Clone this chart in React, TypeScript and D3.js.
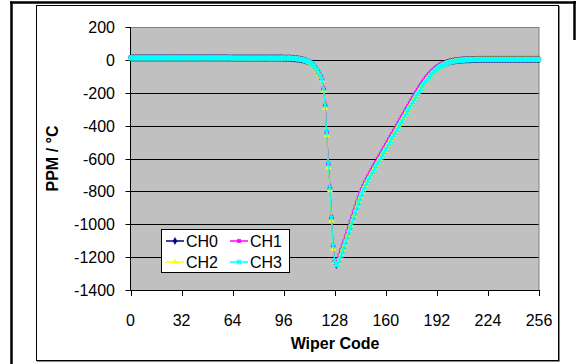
import React from "react";
import * as d3 from "d3";

const seriesNames = ["CH0", "CH1", "CH2", "CH3"];
const seriesColors = ["#000080", "#FF00FF", "#FFFF00", "#00FFFF"];
const xTicks = [0, 32, 64, 96, 128, 160, 192, 224, 256];
const yTicks = [200, 0, -200, -400, -600, -800, -1000, -1200, -1400];

const ch0 = [
  12,12,12,12,12,12,12,12,12,12,12,12,12,12,12,12,
  12,12,12,12,12,12,12,12,12,12,12,12,12,12,12,12,
  12,12,12,12,12,12,12,12,12,12,12,12,12,12,12,12,
  12,12,12,12,12,12,12,12,12,12,12,12,12,11,11,11,
  11,11,11,11,11,11,11,11,11,11,11,11,11,11,11,11,
  11,11,11,11,11,11,11,11,11,11,11,11,11,11,11,11,
  10,10,10,10,10,9,8,7,6,5,4,2,0,-3,-6,-10,
  -15,-21,-29,-38,-50,-64,-80,-98,-118,-179,-280,-446,-639,-781,-963,-1136,
  -1225,-1248,-1230,-1203,-1175,-1147,-1118,-1089,-1060,-1030,-1000,-970,-940,-910,-881,-853,
  -826,-801,-779,-758,-739,-720,-702,-684,-667,-650,-633,-616,-599,-582,-565,-548,
  -531,-514,-497,-480,-463,-446,-429,-412,-395,-378,-361,-344,-327,-310,-293,-276,
  -259,-242,-226,-210,-194,-178,-163,-148,-134,-120,-107,-95,-84,-74,-65,-57,
  -49,-42,-36,-31,-26,-22,-18,-15,-12,-10,-8,-6,-5,-4,-3,-2,
  -1,0,0,1,1,1,2,2,2,2,3,3,3,3,3,3,
  3,3,3,3,3,3,3,3,3,3,3,3,3,3,3,3,
  3,3,3,3,3,3,3,3,3,3,3,3,3,3,3,3,
  3,
];

const ch1 = [
  14,14,14,14,14,14,14,14,14,14,14,14,14,14,14,14,
  14,14,14,14,14,14,14,14,14,14,14,14,14,14,14,14,
  14,14,14,14,14,14,14,14,14,14,14,14,14,14,14,14,
  14,14,14,14,14,14,14,14,14,14,14,14,14,14,14,14,
  13,13,13,13,13,13,13,13,13,13,13,13,13,13,13,13,
  13,13,13,13,13,13,13,13,13,13,13,13,13,13,13,13,
  12,12,12,12,12,11,10,9,8,7,6,4,2,-1,-4,-8,
  -13,-19,-27,-36,-48,-62,-78,-96,-115,-172,-272,-438,-630,-773,-955,-1130,
  -1222,-1243,-1215,-1188,-1160,-1132,-1103,-1074,-1045,-1015,-985,-955,-925,-896,-867,-839,
  -812,-788,-766,-746,-727,-708,-690,-672,-655,-638,-621,-604,-587,-570,-553,-536,
  -519,-502,-485,-468,-451,-434,-417,-400,-383,-366,-349,-332,-315,-298,-281,-264,
  -247,-230,-214,-198,-182,-167,-152,-138,-124,-111,-99,-88,-78,-68,-60,-52,
  -44,-38,-32,-27,-23,-19,-15,-12,-10,-8,-6,-4,-3,-2,-1,0,
  1,1,2,2,2,3,3,3,3,4,4,4,4,4,4,4,
  4,4,4,4,4,4,4,4,4,4,4,4,4,4,4,4,
  4,4,4,4,4,4,4,4,4,4,4,4,4,4,4,4,
  4,
];

const ch2 = [
  10,10,10,10,10,10,10,10,10,10,10,10,10,10,10,10,
  10,10,10,10,10,10,10,10,10,10,10,10,10,10,10,10,
  10,10,10,10,10,10,10,10,10,10,10,10,10,10,10,10,
  10,10,10,10,10,10,10,10,10,10,10,10,10,10,10,10,
  9,9,9,9,9,9,9,9,9,9,9,9,9,9,9,9,
  9,9,9,9,9,9,9,9,9,9,9,9,9,9,9,9,
  9,9,9,9,9,8,7,6,5,4,3,1,-1,-4,-7,-11,
  -16,-23,-31,-40,-53,-67,-84,-102,-125,-188,-292,-460,-655,-795,-978,-1150,
  -1230,-1250,-1236,-1209,-1181,-1153,-1124,-1095,-1066,-1036,-1006,-976,-946,-916,-887,-859,
  -832,-807,-785,-764,-745,-726,-708,-690,-673,-656,-639,-622,-605,-588,-571,-554,
  -537,-520,-503,-486,-469,-452,-435,-418,-401,-384,-367,-350,-333,-316,-299,-282,
  -265,-248,-232,-216,-200,-184,-169,-154,-140,-126,-113,-101,-90,-80,-70,-62,
  -54,-46,-40,-34,-29,-25,-21,-17,-14,-12,-10,-8,-6,-5,-4,-3,
  -2,-1,-1,0,0,1,1,1,1,2,2,2,2,2,2,2,
  2,2,2,2,2,2,2,2,2,2,2,2,2,2,2,2,
  2,2,2,2,2,2,2,2,2,2,2,2,2,2,2,2,
  2,
];

const ch3 = [
  11,11,11,11,11,11,11,11,11,11,11,11,11,11,11,11,
  11,11,11,11,11,11,11,11,11,11,11,11,11,11,11,11,
  11,11,11,11,11,11,11,11,11,11,11,11,11,11,11,11,
  11,11,11,11,11,11,11,11,11,11,11,11,11,11,11,11,
  10,10,10,10,10,10,10,10,10,10,10,10,10,10,10,10,
  10,10,10,10,10,10,10,10,10,10,10,10,10,10,10,10,
  10,10,10,10,10,9,8,7,6,5,4,3,1,-2,-5,-9,
  -14,-20,-27,-36,-48,-62,-78,-96,-116,-176,-276,-440,-634,-777,-960,-1132,
  -1222,-1246,-1244,-1218,-1190,-1162,-1133,-1104,-1075,-1045,-1015,-985,-955,-925,-896,-867,
  -840,-814,-791,-770,-751,-732,-714,-696,-679,-662,-645,-628,-611,-594,-577,-560,
  -543,-526,-509,-492,-475,-458,-441,-424,-407,-390,-373,-356,-339,-322,-305,-288,
  -271,-254,-238,-222,-206,-190,-175,-160,-146,-132,-118,-105,-93,-83,-73,-64,
  -56,-48,-41,-36,-31,-26,-22,-18,-15,-13,-11,-9,-7,-6,-5,-4,
  -3,-2,-1,-1,0,0,1,1,1,1,2,2,2,2,2,2,
  2,2,2,2,2,2,2,2,2,2,2,2,2,2,2,2,
  2,2,2,2,2,2,2,2,2,2,2,2,2,2,2,2,
  2,
];

const allSeries = [ch0, ch1, ch2, ch3];

const FONT = "'Liberation Sans', Arial, sans-serif";

const W = 576;
const H = 364;
const plot = { left: 130.5, top: 27, right: 539, bottom: 290 };

function markerPath(i: number, size: number) {
  const types = [d3.symbolDiamond, d3.symbolSquare, d3.symbolTriangle, d3.symbolX];
  return d3.symbol().type(types[i]).size(size)() as string;
}

function Marker({ i, x, y }: { i: number; x: number; y: number }) {
  const color = seriesColors[i];
  if (i === 3) {
    return (
      <g transform={`translate(${x},${y})`}>
        <path d={markerPath(3, 14)} fill="none" stroke={color} strokeWidth={1.2} />
        <line x1={0} y1={-2.5} x2={0} y2={2.5} stroke={color} strokeWidth={1} />
      </g>
    );
  }
  const sizes = [14, 12, 12];
  return <path transform={`translate(${x},${y})`} d={markerPath(i, sizes[i])} fill={color} stroke={color} strokeWidth={0.5} />;
}

export default function App() {
  const x = d3.scaleLinear().domain([0, 256]).range([plot.left, plot.right]);
  const y = d3.scaleLinear().domain([-1400, 200]).range([plot.bottom, plot.top]);
  const line = d3
    .line<number>()
    .x((_, k) => x(k))
    .y((v) => y(v));

  const legendX = 161;
  const legendY = 229;
  const legendItems = [
    { i: 0, lx: 166, ly: 241 },
    { i: 1, lx: 230, ly: 241 },
    { i: 2, lx: 166, ly: 262 },
    { i: 3, lx: 230, ly: 262 },
  ];

  return (
    <svg
      width={W}
      height={H}
      viewBox={`0 0 ${W} ${H}`}
      style={{ position: "absolute", left: 0, top: 0, display: "block", background: "#fff" }}
      fontFamily={FONT}
    >
      {/* outer frame */}
      <line x1={11.5} y1={1.5} x2={11.5} y2={H} stroke="#000" strokeWidth={2.5} />
      <line x1={10} y1={2.5} x2={W} y2={2.5} stroke="#000" strokeWidth={2.5} />
      <line x1={574.5} y1={1} x2={574.5} y2={40} stroke="#000" strokeWidth={2.5} />
      {/* chart area frame */}
      <rect x={36.5} y={5.5} width={522} height={355} fill="#fff" stroke="#000" strokeWidth={1} />
      <line x1={559.5} y1={6} x2={559.5} y2={361.5} stroke="#888" strokeWidth={1} />
      <line x1={37} y1={361.5} x2={559.5} y2={361.5} stroke="#888" strokeWidth={1} />

      {/* plot area */}
      <rect x={plot.left} y={plot.top} width={plot.right - plot.left} height={plot.bottom - plot.top} fill="#C0C0C0" />
      {yTicks.slice(1, -1).map((t) => (
        <line key={t} x1={plot.left} x2={plot.right} y1={Math.round(y(t)) + 0.5} y2={Math.round(y(t)) + 0.5} stroke="#000" strokeWidth={1} />
      ))}
      <rect x={plot.left} y={plot.top + 0.5} width={plot.right - plot.left} height={plot.bottom - plot.top} fill="none" stroke="#808080" strokeWidth={1} />

      {/* y axis */}
      <line x1={plot.left} x2={plot.left} y1={plot.top} y2={plot.bottom} stroke="#000" strokeWidth={1} />
      {yTicks.map((t) => (
        <g key={t}>
          <line x1={plot.left - 5} x2={plot.left} y1={Math.round(y(t)) + 0.5} y2={Math.round(y(t)) + 0.5} stroke="#000" />
          <text x={115} y={y(t) + 6} textAnchor="end" fontSize={16} fill="#000">
            {t}
          </text>
        </g>
      ))}
      {/* x axis */}
      <line x1={plot.left} x2={plot.right} y1={plot.bottom + 0.5} y2={plot.bottom + 0.5} stroke="#000" />
      {xTicks.map((t) => (
        <g key={t}>
          <line x1={Math.round(x(t)) + 0.5} x2={Math.round(x(t)) + 0.5} y1={plot.bottom} y2={plot.bottom + 6} stroke="#000" />
          <text x={x(t)} y={326} textAnchor="middle" fontSize={16} fill="#000">
            {t}
          </text>
        </g>
      ))}
      <text x={335} y={349} textAnchor="middle" fontSize={16} fontWeight="bold" fill="#000">
        Wiper Code
      </text>
      <text transform={`translate(58,158.5) rotate(-90)`} textAnchor="middle" fontSize={16} fontWeight="bold" fill="#000">
        PPM / °C
      </text>

      {/* series */}
      {allSeries.map((s, i) => (
        <g key={seriesNames[i]}>
          <path d={line(s) as string} fill="none" stroke={seriesColors[i]} strokeWidth={1} />
          {s.map((v, k) => (
            <Marker key={k} i={i} x={x(k)} y={y(v)} />
          ))}
        </g>
      ))}

      {/* legend */}
      <rect x={legendX + 0.5} y={legendY + 0.5} width={128} height={43} fill="#fff" stroke="#000" strokeWidth={1} />
      {legendItems.map(({ i, lx, ly }) => (
        <g key={i}>
          <line x1={lx} x2={lx + 18} y1={ly} y2={ly} stroke={seriesColors[i]} strokeWidth={1.5} />
          <Marker i={i} x={lx + 9} y={ly} />
          <text x={lx + 20} y={ly + 6} fontSize={16} fill="#000">
            {seriesNames[i]}
          </text>
        </g>
      ))}
    </svg>
  );
}
